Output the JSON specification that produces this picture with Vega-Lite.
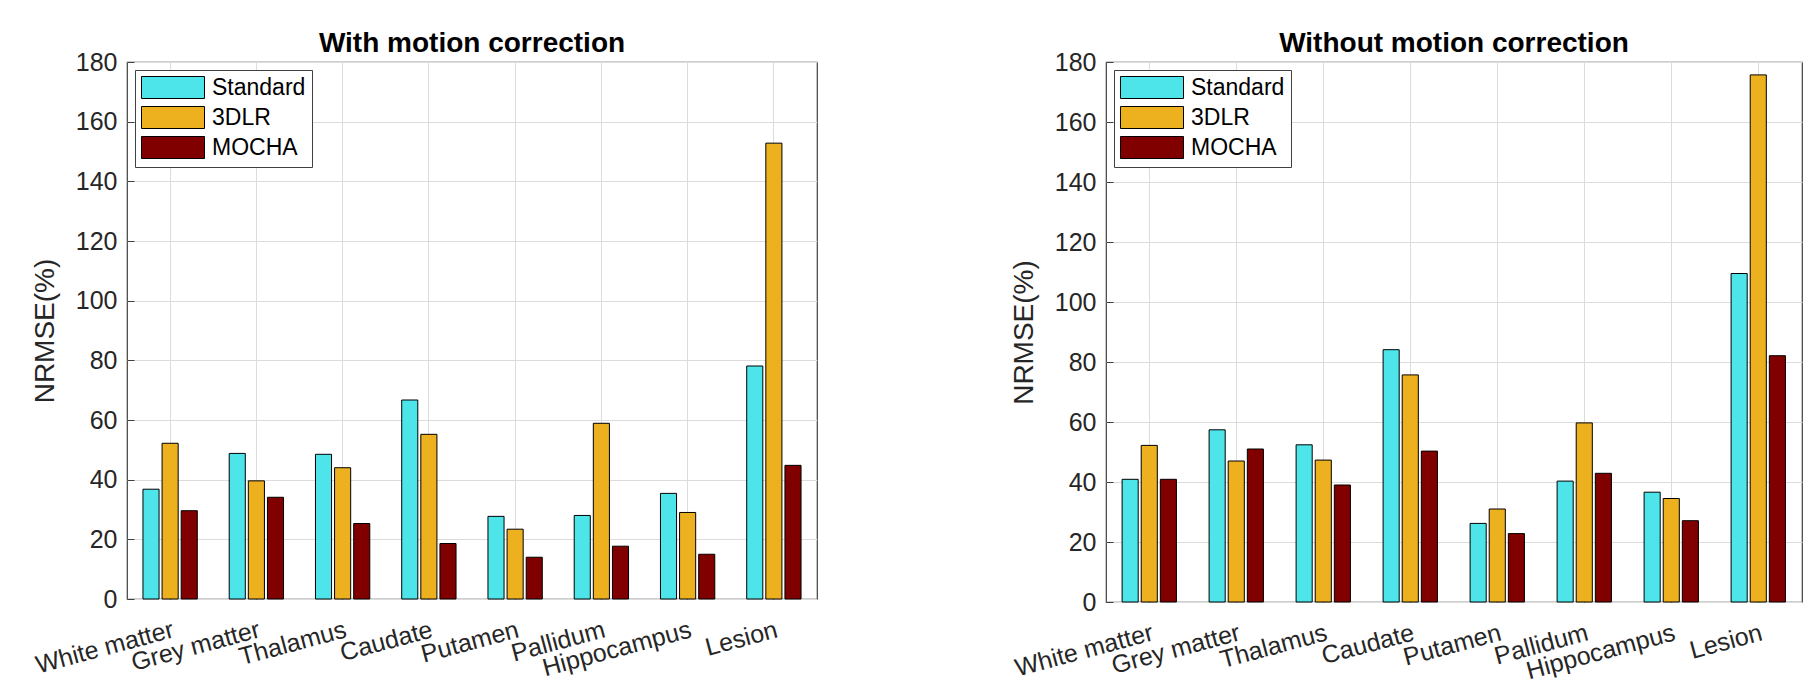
{
  "$schema": "https://vega.github.io/schema/vega-lite/v6.json",
  "padding": {"left": 30, "top": 29, "right": 18, "bottom": 5},
  "spacing": 191,
  "config": {
    "font": "Liberation Sans",
    "view": {"stroke": "#404040", "strokeWidth": 1.2},
    "title": {"fontSize": 28, "fontWeight": "bold", "color": "black", "baseline": "alphabetic", "offset": 10, "dy": 18, "frame": "group"},
    "axis": {
      "labelFont": "Liberation Sans",
      "labelColor": "#262626",
      "titleColor": "#262626",
      "titleFont": "Liberation Sans",
      "titleFontWeight": "normal",
      "gridColor": "#dcdcdc",
      "gridWidth": 1,
      "domain": false,
      "ticks": true,
      "tickSize": -7,
      "tickColor": "#404040"
    },
    "legend": {
      "orient": "top-left",
      "offset": 8,
      "padding": 6,
      "strokeColor": "#404040",
      "fillColor": "white",
      "labelFont": "Liberation Sans",
      "labelFontSize": 23,
      "labelColor": "black",
      "labelOffset": 27.5,
      "labelLimit": 0,
      "rowPadding": 3
    }
  },
  "data": {
    "values": [
      {"panel": "with", "region": "White matter", "method": "Standard", "nrmse": 36.8},
      {"panel": "with", "region": "White matter", "method": "3DLR", "nrmse": 52.2},
      {"panel": "with", "region": "White matter", "method": "MOCHA", "nrmse": 29.6},
      {"panel": "with", "region": "Grey matter", "method": "Standard", "nrmse": 48.8},
      {"panel": "with", "region": "Grey matter", "method": "3DLR", "nrmse": 39.6},
      {"panel": "with", "region": "Grey matter", "method": "MOCHA", "nrmse": 34.1},
      {"panel": "with", "region": "Thalamus", "method": "Standard", "nrmse": 48.5},
      {"panel": "with", "region": "Thalamus", "method": "3DLR", "nrmse": 44.0},
      {"panel": "with", "region": "Thalamus", "method": "MOCHA", "nrmse": 25.3},
      {"panel": "with", "region": "Caudate", "method": "Standard", "nrmse": 66.7},
      {"panel": "with", "region": "Caudate", "method": "3DLR", "nrmse": 55.2},
      {"panel": "with", "region": "Caudate", "method": "MOCHA", "nrmse": 18.6},
      {"panel": "with", "region": "Putamen", "method": "Standard", "nrmse": 27.7},
      {"panel": "with", "region": "Putamen", "method": "3DLR", "nrmse": 23.4},
      {"panel": "with", "region": "Putamen", "method": "MOCHA", "nrmse": 14.0},
      {"panel": "with", "region": "Pallidum", "method": "Standard", "nrmse": 28.0},
      {"panel": "with", "region": "Pallidum", "method": "3DLR", "nrmse": 58.9},
      {"panel": "with", "region": "Pallidum", "method": "MOCHA", "nrmse": 17.7},
      {"panel": "with", "region": "Hippocampus", "method": "Standard", "nrmse": 35.4},
      {"panel": "with", "region": "Hippocampus", "method": "3DLR", "nrmse": 29.0},
      {"panel": "with", "region": "Hippocampus", "method": "MOCHA", "nrmse": 15.0},
      {"panel": "with", "region": "Lesion", "method": "Standard", "nrmse": 78.1},
      {"panel": "with", "region": "Lesion", "method": "3DLR", "nrmse": 152.8},
      {"panel": "with", "region": "Lesion", "method": "MOCHA", "nrmse": 44.8},
      {"panel": "without", "region": "White matter", "method": "Standard", "nrmse": 40.9},
      {"panel": "without", "region": "White matter", "method": "3DLR", "nrmse": 52.2},
      {"panel": "without", "region": "White matter", "method": "MOCHA", "nrmse": 40.9},
      {"panel": "without", "region": "Grey matter", "method": "Standard", "nrmse": 57.4},
      {"panel": "without", "region": "Grey matter", "method": "3DLR", "nrmse": 47.0},
      {"panel": "without", "region": "Grey matter", "method": "MOCHA", "nrmse": 51.0},
      {"panel": "without", "region": "Thalamus", "method": "Standard", "nrmse": 52.4},
      {"panel": "without", "region": "Thalamus", "method": "3DLR", "nrmse": 47.3},
      {"panel": "without", "region": "Thalamus", "method": "MOCHA", "nrmse": 39.0},
      {"panel": "without", "region": "Caudate", "method": "Standard", "nrmse": 84.1},
      {"panel": "without", "region": "Caudate", "method": "3DLR", "nrmse": 75.7},
      {"panel": "without", "region": "Caudate", "method": "MOCHA", "nrmse": 50.3},
      {"panel": "without", "region": "Putamen", "method": "Standard", "nrmse": 26.2},
      {"panel": "without", "region": "Putamen", "method": "3DLR", "nrmse": 31.0},
      {"panel": "without", "region": "Putamen", "method": "MOCHA", "nrmse": 22.8},
      {"panel": "without", "region": "Pallidum", "method": "Standard", "nrmse": 40.3},
      {"panel": "without", "region": "Pallidum", "method": "3DLR", "nrmse": 59.7},
      {"panel": "without", "region": "Pallidum", "method": "MOCHA", "nrmse": 42.9},
      {"panel": "without", "region": "Hippocampus", "method": "Standard", "nrmse": 36.6},
      {"panel": "without", "region": "Hippocampus", "method": "3DLR", "nrmse": 34.5},
      {"panel": "without", "region": "Hippocampus", "method": "MOCHA", "nrmse": 27.1},
      {"panel": "without", "region": "Lesion", "method": "Standard", "nrmse": 109.5},
      {"panel": "without", "region": "Lesion", "method": "3DLR", "nrmse": 175.7},
      {"panel": "without", "region": "Lesion", "method": "MOCHA", "nrmse": 82.1}
    ]
  },
  "resolve": {"legend": {"color": "independent"}, "scale": {"color": "independent"}},
  "hconcat": [
    {
      "title": "With motion correction",
      "width": 690,
      "height": 537,
      "transform": [{"filter": "datum.panel == 'with'"}],
      "mark": {"type": "bar", "stroke": "black", "strokeWidth": 1},
      "encoding": {
        "x": {
          "field": "region", "type": "nominal",
          "sort": ["White matter", "Grey matter", "Thalamus", "Caudate", "Putamen", "Pallidum", "Hippocampus", "Lesion"],
          "scale": {"paddingInner": 0.37, "paddingOuter": 0.185},
          "axis": {"title": null, "labelAngle": -15, "labelAlign": "right", "labelBaseline": "top", "labelFontSize": 25, "labelPadding": 25, "grid": true}
        },
        "y": {
          "field": "nrmse", "type": "quantitative",
          "scale": {"domain": [0, 180], "nice": false},
          "axis": {"title": "NRMSE(%)", "titleFontSize": 28, "titlePadding": 16, "labelFontSize": 25, "labelPadding": 17, "values": [0, 20, 40, 60, 80, 100, 120, 140, 160, 180], "grid": true}
        },
        "xOffset": {"field": "method", "type": "nominal", "sort": ["Standard", "3DLR", "MOCHA"], "scale": {"paddingInner": 0.158, "paddingOuter": 0}},
        "color": {
          "field": "method", "type": "nominal", "sort": ["Standard", "3DLR", "MOCHA"],
          "scale": {"domain": ["Standard", "3DLR", "MOCHA"], "range": ["#4DE5EA", "#EDB120", "#800000"]},
          "legend": {"title": null, "symbolType": "M-2.864,-1H2.864V1H-2.864Z", "symbolSize": 484, "symbolOffset": 20.5, "symbolStrokeColor": "black", "symbolStrokeWidth": 1, "symbolOpacity": 1}
        }
      }
    },
    {
      "title": "Without motion correction",
      "width": 696,
      "height": 540,
      "transform": [{"filter": "datum.panel == 'without'"}],
      "mark": {"type": "bar", "stroke": "black", "strokeWidth": 1},
      "encoding": {
        "x": {
          "field": "region", "type": "nominal",
          "sort": ["White matter", "Grey matter", "Thalamus", "Caudate", "Putamen", "Pallidum", "Hippocampus", "Lesion"],
          "scale": {"paddingInner": 0.37, "paddingOuter": 0.185},
          "axis": {"title": null, "labelAngle": -15, "labelAlign": "right", "labelBaseline": "top", "labelFontSize": 25, "labelPadding": 25, "grid": true}
        },
        "y": {
          "field": "nrmse", "type": "quantitative",
          "scale": {"domain": [0, 180], "nice": false},
          "axis": {"title": "NRMSE(%)", "titleFontSize": 28, "titlePadding": 16, "labelFontSize": 25, "labelPadding": 17, "values": [0, 20, 40, 60, 80, 100, 120, 140, 160, 180], "grid": true}
        },
        "xOffset": {"field": "method", "type": "nominal", "sort": ["Standard", "3DLR", "MOCHA"], "scale": {"paddingInner": 0.158, "paddingOuter": 0}},
        "color": {
          "field": "method", "type": "nominal", "sort": ["Standard", "3DLR", "MOCHA"],
          "scale": {"domain": ["Standard", "3DLR", "MOCHA"], "range": ["#4DE5EA", "#EDB120", "#800000"]},
          "legend": {"title": null, "symbolType": "M-2.864,-1H2.864V1H-2.864Z", "symbolSize": 484, "symbolOffset": 20.5, "symbolStrokeColor": "black", "symbolStrokeWidth": 1, "symbolOpacity": 1}
        }
      }
    }
  ]
}
